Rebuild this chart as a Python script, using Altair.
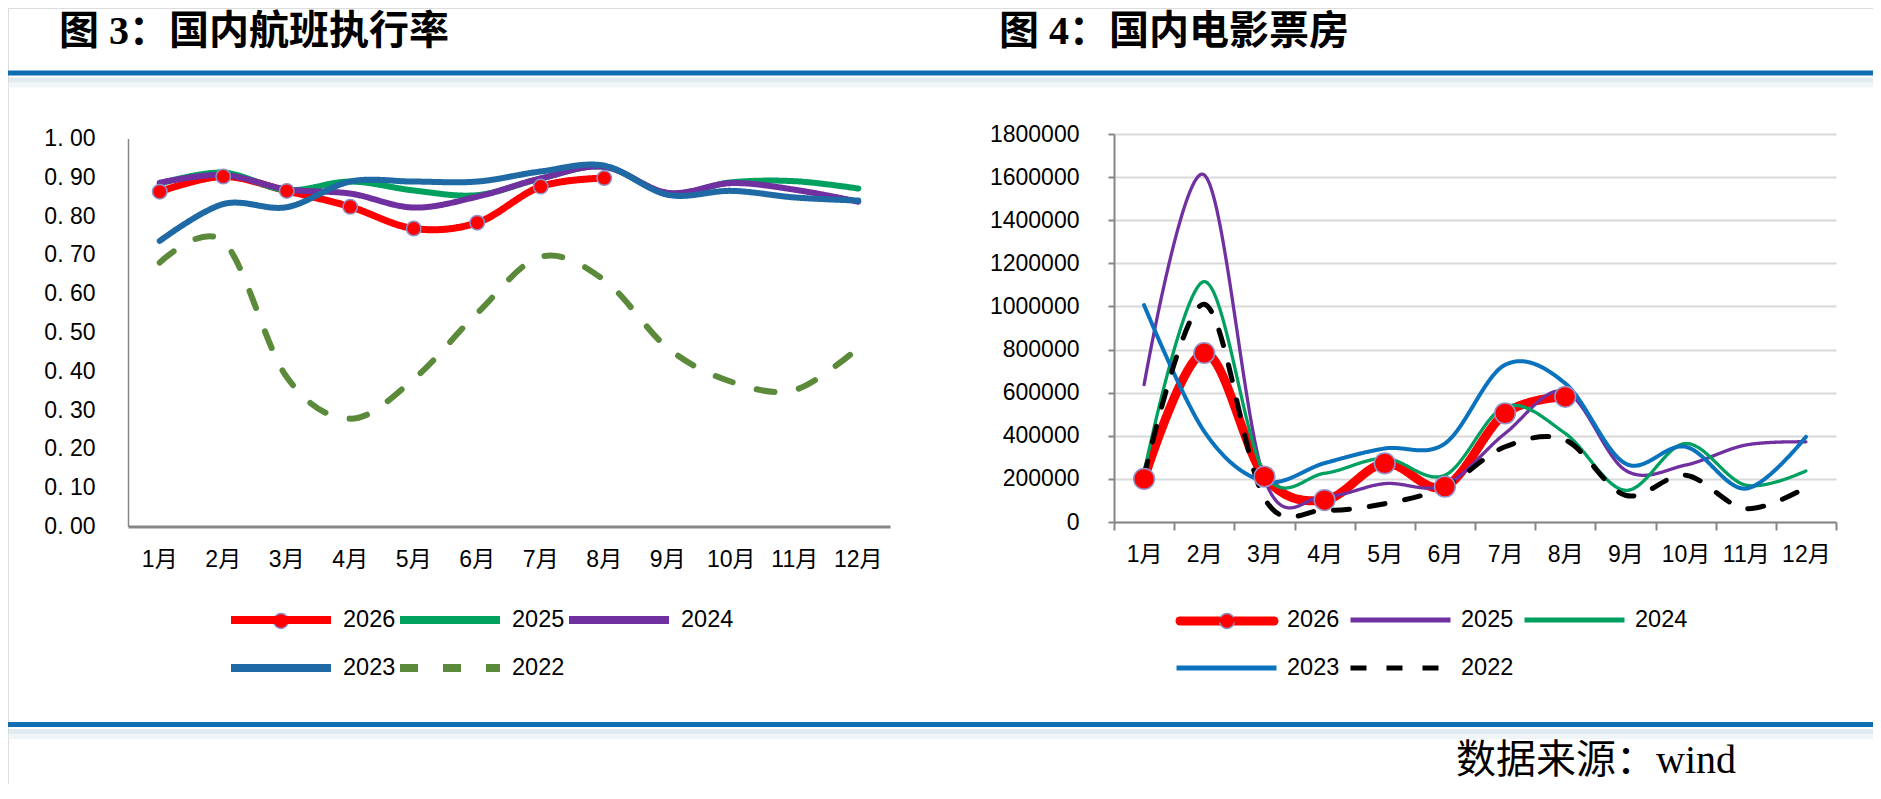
import altair as alt
import pandas as pd

# ---------------- data ----------------
months = ["1月", "2月", "3月", "4月", "5月", "6月", "7月", "8月", "9月", "10月", "11月", "12月"]
years = ["2026", "2025", "2024", "2023", "2022"]

# 图3 国内航班执行率
flight_2026 = [0.863, 0.902, 0.865, 0.824, 0.768, 0.783, 0.876, 0.898]
flight_2025 = [0.884, 0.912, 0.867, 0.889, 0.866, 0.854, 0.897, 0.927, 0.859, 0.887, 0.890, 0.871]
flight_2024 = [0.886, 0.906, 0.869, 0.858, 0.822, 0.850, 0.897, 0.927, 0.860, 0.885, 0.868, 0.837]
flight_2023 = [0.736, 0.831, 0.823, 0.889, 0.889, 0.889, 0.915, 0.930, 0.855, 0.865, 0.848, 0.840]
flight_2022 = [0.680, 0.735, 0.385, 0.278, 0.380, 0.550, 0.695, 0.635, 0.460, 0.373, 0.352, 0.460]

# 图4 国内电影票房
box_2026 = [200000, 784000, 211000, 102000, 272000, 164000, 504000, 581000]
box_2025 = [637000, 1610000, 200000, 120000, 178000, 171000, 411000, 605000, 240000, 264000, 357000, 372000]
box_2024 = [230000, 1115000, 226000, 226000, 295000, 217000, 535000, 411000, 147000, 364000, 171000, 237000]
box_2023 = [1006000, 420000, 188000, 273000, 341000, 364000, 729000, 643000, 271000, 349000, 155000, 395000]
box_2022 = [210000, 1010000, 110000, 55000, 85000, 163000, 349000, 380000, 124000, 217000, 62000, 160000]

left_ticks = [0, 0.1, 0.2, 0.3, 0.4, 0.5, 0.6, 0.7, 0.8, 0.9, 1.0]
right_ticks = [0, 200000, 400000, 600000, 800000, 1000000, 1200000, 1400000, 1600000, 1800000]

title_left = "图 3：国内航班执行率"
title_right = "图 4：国内电影票房"
source_text = "数据来源：wind"


def long_df(series):
    rows = []
    for yr, vals in series.items():
        for m, v in zip(months, vals):
            rows.append({"month": m, "year": yr, "value": v})
    return pd.DataFrame(rows)


left_df = long_df({"2026": flight_2026, "2025": flight_2025, "2024": flight_2024,
                   "2023": flight_2023, "2022": flight_2022})
right_df = long_df({"2026": box_2026, "2025": box_2025, "2024": box_2024,
                    "2023": box_2023, "2022": box_2022})

# ---------------- layout ----------------
W, H = 1865, 776
LAB_FONT = "Liberation Sans, Noto Sans CJK SC"
LEG_FONT = "Liberation Sans"
AXIS_GRAY = "#868686"

L_X0, L_X1, L_Y0, L_Y1 = 120, 882, 130.5, 518.5
R_X0, R_X1, R_Y0, R_Y1 = 1106, 1828, 126, 514

left_colors = ["#FF0000", "#00A05F", "#7030A0", "#1F6AA5", "#5A8A3A"]
left_dash = [[1, 0], [1, 0], [1, 0], [1, 0], [18, 25]]
left_widths = {"2026": 7, "2025": 6, "2024": 6, "2023": 6, "2022": 6}

right_colors = ["#FF0000", "#7030A0", "#00A060", "#0B72BD", "#000000"]
right_dash = [[1, 0], [1, 0], [1, 0], [1, 0], [16, 20]]
right_widths = {"2026": 9, "2025": 3.3, "2024": 3.3, "2023": 4, "2022": 5}

LEG_COMMON = dict(title=None, orient="none", columns=3, direction="horizontal",
                  symbolType="stroke", symbolSize=10000, labelOffset=8,
                  clipHeight=28, rowPadding=20, labelFont=LEG_FONT, labelFontSize=23.5,
                  labelColor="#000000", padding=0)

lx = alt.X("month:N", sort=months, bandPosition=0.5,
           scale=alt.Scale(type="band", domain=months, range=[L_X0, L_X1],
                           paddingInner=0, paddingOuter=0),
           axis=alt.Axis(title=None, orient="bottom", offset=L_Y1 - H, ticks=False, tickSize=0,
                         labelPadding=33, labelBaseline="middle", labelAngle=0,
                         domainColor=AXIS_GRAY, domainWidth=3, grid=False,
                         labelFont=LAB_FONT, labelFontSize=23, labelColor="#000000"))
ly = alt.Y("value:Q",
           scale=alt.Scale(domain=[0, 1], range=[L_Y1, L_Y0], nice=False, zero=True),
           axis=alt.Axis(title=None, orient="left", offset=-L_X0, values=left_ticks,
                         labelExpr="replace(format(datum.value, '.2f'), '.', '. ')",
                         ticks=False, tickSize=0, labelPadding=33, grid=False,
                         domainColor=AXIS_GRAY, domainWidth=1.5,
                         labelFont=LAB_FONT, labelFontSize=23, labelColor="#000000"))

left_legend = alt.Legend(legendX=219, legendY=598, symbolStrokeWidth=8, columnPadding=0,
                         **LEG_COMMON)

lcolor = alt.Color("year:N", scale=alt.Scale(domain=years, range=left_colors), legend=left_legend)
ldash = alt.StrokeDash("year:N", scale=alt.Scale(domain=years, range=left_dash), legend=left_legend)

left_layers = []
for yr in years:
    left_layers.append(
        alt.Chart(left_df).transform_filter(alt.datum.year == yr)
        .mark_line(interpolate="cardinal", strokeCap="round", strokeJoin="round",
                   strokeWidth=left_widths[yr])
        .encode(x=lx, y=ly, color=lcolor, strokeDash=ldash)
    )
left_pts = (alt.Chart(left_df).transform_filter(alt.datum.year == "2026")
            .mark_point(filled=True, fill="#FF0000", stroke="#8E8EC8", strokeWidth=1.5,
                        size=210, opacity=1)
            .encode(x=lx, y=ly))
left = alt.layer(*left_layers, left_pts)

rx = alt.X("month:N", sort=months, bandPosition=0.5,
           scale=alt.Scale(type="band", domain=months, range=[R_X0, R_X1],
                           paddingInner=0, paddingOuter=0),
           axis=alt.Axis(title=None, orient="bottom", offset=R_Y1 - H, ticks=True, tickSize=8,
                         tickBand="extent", tickColor=AXIS_GRAY, tickWidth=2,
                         labelPadding=24, labelBaseline="middle", labelAngle=0,
                         domainColor=AXIS_GRAY, domainWidth=2, grid=False,
                         labelFont=LAB_FONT, labelFontSize=23, labelColor="#000000"))
ry = alt.Y("value:Q",
           scale=alt.Scale(domain=[0, 1800000], range=[R_Y1, R_Y0], nice=False, zero=True),
           axis=alt.Axis(title=None, orient="left", offset=-R_X0, values=right_ticks, format="d",
                         ticks=True, tickSize=6, tickColor=AXIS_GRAY, tickWidth=2,
                         labelPadding=29, grid=True, gridColor="#D9D9D9", gridWidth=2,
                         domainColor=AXIS_GRAY, domainWidth=2,
                         labelFont=LAB_FONT, labelFontSize=23, labelColor="#000000"))

right_legend = alt.Legend(legendX=1166, legendY=598, symbolStrokeWidth=5, columnPadding=8,
                          **LEG_COMMON)
rcolor = alt.Color("year:N", scale=alt.Scale(domain=years, range=right_colors), legend=right_legend)
rdash = alt.StrokeDash("year:N", scale=alt.Scale(domain=years, range=right_dash), legend=right_legend)

right_layers = []
for yr in years:
    right_layers.append(
        alt.Chart(right_df).transform_filter(alt.datum.year == yr)
        .mark_line(interpolate="cardinal", strokeCap="round", strokeJoin="round",
                   strokeWidth=right_widths[yr])
        .encode(x=rx, y=ry, color=rcolor, strokeDash=rdash)
    )
right_pts = (alt.Chart(right_df).transform_filter(alt.datum.year == "2026")
             .mark_point(filled=True, fill="#FF0000", stroke="#9494CC", strokeWidth=1.5,
                         size=430, opacity=1)
             .encode(x=rx, y=ry))
right = alt.layer(*right_layers, right_pts)

# ---------------- decorations ----------------
one = pd.DataFrame({"k": [0]})


def hrule(y, color, width, opacity=1.0, x0=0, x1=W, cap="butt"):
    return (alt.Chart(one).mark_rule(color=color, strokeWidth=width, opacity=opacity,
                                     strokeCap=cap)
            .encode(x=alt.value(x0), x2=alt.value(x1), y=alt.value(y)))


def label(text, x, y, size, weight, baseline):
    return (alt.Chart(pd.DataFrame({"t": [text]}))
            .mark_text(font="Liberation Serif, Noto Sans CJK SC", fontSize=size,
                       fontWeight=weight, align="left", baseline=baseline, color="#000000")
            .encode(text="t:N", x=alt.value(x), y=alt.value(y)))


def legend_dot(x, y):
    return (alt.Chart(one)
            .mark_point(filled=True, fill="#FF0000", stroke="#8E8EC8", strokeWidth=1.5,
                        size=220, opacity=1)
            .encode(x=alt.value(x), y=alt.value(y)))


decor = [
    hrule(72, "#C9D8E4", 5, 0.55), hrule(77, "#E6EEF3", 5, 0.6),
    hrule(65, "#0F6DB2", 5),
    hrule(723.5, "#C9D8E4", 5, 0.55), hrule(728.5, "#E6EEF3", 5, 0.6),
    hrule(716.5, "#0F6DB2", 5),
    label(title_left, 51, 24, 40, "bold", "middle"),
    label(title_right, 991, 24, 40, "bold", "middle"),
    label(source_text, 1448, 765, 40, "normal", "alphabetic"),
    hrule(613, "#FF0000", 9, 1.0, 1172, 1266, "round"),
    legend_dot(273, 613),
    legend_dot(1219, 613),
]

chart = (alt.layer(left, right, *decor)
         .resolve_scale(x="independent", y="independent", color="independent",
                        strokeDash="independent")
         .resolve_axis(x="independent", y="independent")
         .resolve_legend(color="independent", strokeDash="independent")
         .properties(width=W, height=H, autosize=alt.AutoSizeParams(type="none"), padding=0)
         .configure_view(stroke=None)
         .configure(background="#FFFFFF"))

chart.save("out.html", embed_options={"renderer": "svg", "actions": False})
